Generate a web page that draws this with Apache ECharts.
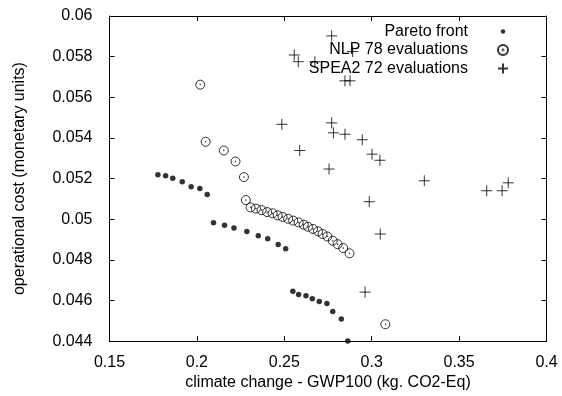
<!DOCTYPE html>
<html>
<head>
<meta charset="utf-8">
<script src="https://cdn.jsdelivr.net/npm/echarts@6/dist/echarts.min.js"></script>
<style>
  html, body { margin: 0; padding: 0; background: #fff; }
  #graph { width: 562px; height: 396px; }
</style>
</head>
<body>
<div id="graph"></div>
<script>
// values
var paretoX = [0.1777, 0.1821, 0.1862, 0.1916, 0.1967, 0.2017, 0.2059,
               0.2095, 0.2158, 0.2212, 0.2286, 0.2351, 0.2405, 0.2465, 0.2508,
               0.2549, 0.2582, 0.2624, 0.2660, 0.2700, 0.2744, 0.2777, 0.2826, 0.2863];
var paretoY = [0.05219, 0.05214, 0.05201, 0.05184, 0.05160, 0.05151, 0.05122,
               0.04983, 0.04970, 0.04957, 0.04940, 0.04919, 0.04904, 0.04875, 0.04855,
               0.04645, 0.04629, 0.04623, 0.04609, 0.04595, 0.04585, 0.04546, 0.04509, 0.04400];

var nlpX = [0.2019, 0.2050, 0.2154, 0.2221, 0.2269, 0.2280, 0.2307, 0.2338, 0.2370,
            0.2402, 0.2433, 0.2462, 0.2490, 0.2522, 0.2551, 0.2582, 0.2611, 0.2635,
            0.2664, 0.2693, 0.2719, 0.2746, 0.2777, 0.2805, 0.2837, 0.2873, 0.3078];
var nlpY = [0.05662, 0.05381, 0.05338, 0.05284, 0.05207, 0.05094, 0.05058, 0.05052, 0.05045,
            0.05035, 0.05029, 0.05019, 0.05011, 0.05002, 0.04993, 0.04984, 0.04973, 0.04963,
            0.04952, 0.04940, 0.04927, 0.04915, 0.04894, 0.04877, 0.04858, 0.04832, 0.04483];

var speaX = [0.2771, 0.2891, 0.2557, 0.2580, 0.2675, 0.2847, 0.2876, 0.2486, 0.2771,
             0.2781, 0.2847, 0.2946, 0.3002, 0.3047, 0.2588, 0.2756, 0.3301, 0.2986,
             0.3658, 0.3746, 0.3781, 0.3049, 0.2962];
var speaY = [0.05902, 0.05825, 0.05808, 0.05775, 0.05775, 0.05681, 0.05681, 0.05467, 0.05474,
             0.05425, 0.05418, 0.05391, 0.05320, 0.05290, 0.05338, 0.05247, 0.05189, 0.05086,
             0.05140, 0.05140, 0.05179, 0.04927, 0.04641];

var seriesNames = ['Pareto front', 'NLP 78 evaluations', 'SPEA2 72 evaluations'];

function pairs(xs, ys) {
    var out = [];
    for (var i = 0; i < xs.length; i++) out.push([xs[i], ys[i]]);
    return out;
}

var FONT = '"Liberation Sans", Arial, Helvetica, sans-serif';
var ringPath = 'path://M10,0 A10,10 0 1,1 10,20 A10,10 0 1,1 10,0 Z M10,9.2 A0.8,0.8 0 1,1 10,10.8 A0.8,0.8 0 1,1 10,9.2 Z';
var crossPath = 'path://M10,0 L10,20 M0,10 L20,10';

var myChart = echarts.init(document.getElementById('graph'));

var axisCommon = {
    axisLine: { show: true, onZero: false, lineStyle: { color: '#000', width: 1 } },
    axisTick: { show: true, inside: true, length: 5, lineStyle: { color: '#000', width: 1 } },
    splitLine: { show: false }
};

var option = {
    animation: false,
    backgroundColor: '#fff',
    textStyle: { fontFamily: FONT },
    grid: { left: 109.5, right: 15.5, top: 16, bottom: 54 },
    legend: {
        orient: 'vertical',
        right: 48,
        top: 18.5,
        align: 'right',
        itemWidth: 60,
        itemHeight: 10,
        itemGap: 2.5,
        selectedMode: false,
        textStyle: { fontFamily: FONT, fontSize: 16, color: '#000' },
        data: [
            { name: seriesNames[0], icon: 'path://M0,0 M20,20 M10,5.5 A4.5,4.5 0 1,1 10,14.5 A4.5,4.5 0 1,1 10,5.5 Z' },
            { name: seriesNames[1], icon: ringPath },
            { name: seriesNames[2], icon: crossPath }
        ]
    },
    xAxis: [
        Object.assign({
            type: 'value', position: 'bottom', min: 0.15, max: 0.4, interval: 0.05,
            name: 'climate change - GWP100 (kg. CO2-Eq)',
            nameLocation: 'middle', nameGap: 30,
            nameTextStyle: { fontFamily: FONT, fontSize: 16, color: '#000' },
            axisLabel: { margin: 13, fontFamily: FONT, fontSize: 16, color: '#000' }
        }, axisCommon),
        Object.assign({
            type: 'value', position: 'top', min: 0.15, max: 0.4, interval: 0.05,
            axisLabel: { show: false }
        }, axisCommon)
    ],
    yAxis: [
        Object.assign({
            type: 'value', position: 'left', min: 0.044, max: 0.06, interval: 0.002,
            name: 'operational cost (monetary units)',
            nameLocation: 'middle', nameGap: 82,
            nameTextStyle: { fontFamily: FONT, fontSize: 16, color: '#000' },
            axisLabel: { margin: 17, fontFamily: FONT, fontSize: 16, color: '#000' }
        }, axisCommon),
        Object.assign({
            type: 'value', position: 'right', min: 0.044, max: 0.06, interval: 0.002,
            axisLabel: { show: false }
        }, axisCommon)
    ],
    series: [
        {
            name: seriesNames[0],
            type: 'scatter',
            symbol: 'circle',
            symbolSize: 5.5,
            itemStyle: { color: '#000' },
            data: pairs(paretoX, paretoY)
        },
        {
            name: seriesNames[1],
            type: 'scatter',
            symbol: ringPath,
            symbolSize: 9,
            itemStyle: { color: 'rgba(0,0,0,0)', borderColor: '#000', borderWidth: 1 },
            data: pairs(nlpX, nlpY)
        },
        {
            name: seriesNames[2],
            type: 'scatter',
            symbol: crossPath,
            symbolSize: 11,
            itemStyle: { color: 'rgba(0,0,0,0)', borderColor: '#000', borderWidth: 1 },
            data: pairs(speaX, speaY)
        }
    ]
};

myChart.setOption(option);
</script>
</body>
</html>
